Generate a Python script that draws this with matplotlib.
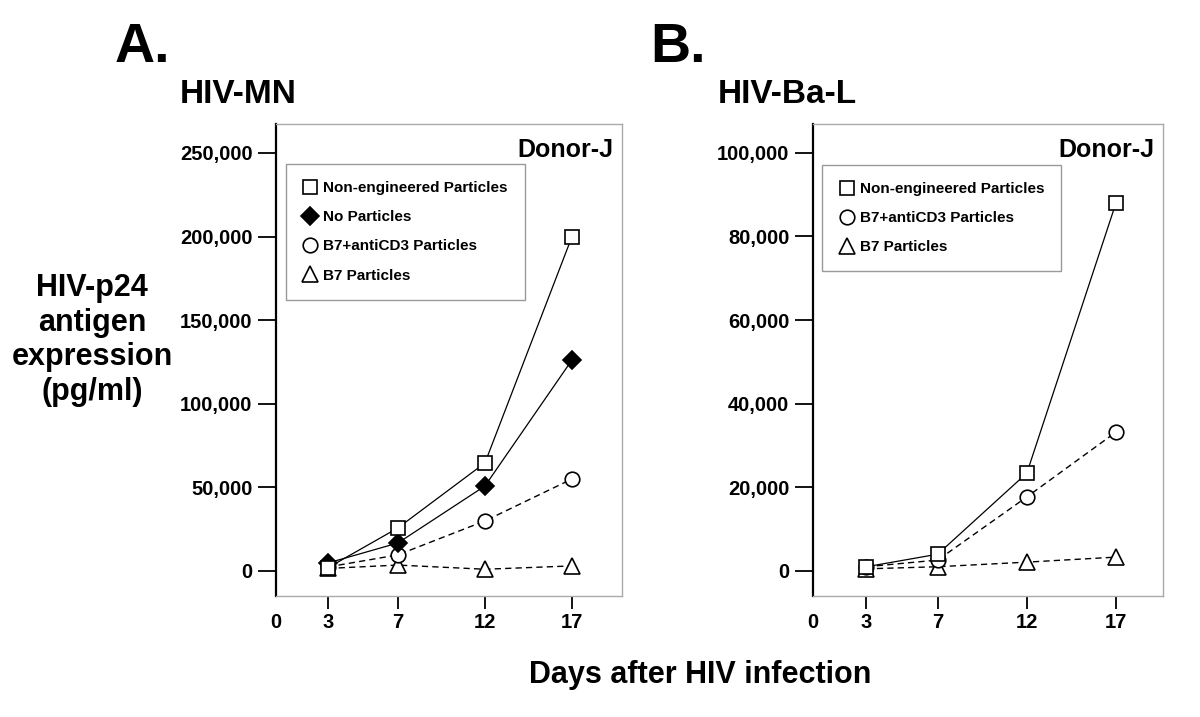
import matplotlib
matplotlib.use("Agg")
import matplotlib.pyplot as plt
from matplotlib.lines import Line2D
from matplotlib.ticker import StrMethodFormatter

plt.rcParams['font.family'] = ['Liberation Sans', 'DejaVu Sans']
plt.rcParams['font.weight'] = 'bold'

# Panel A: HIV-MN, Donor-J
days = [3, 7, 12, 17]
a_nonengineered = [2000, 25700, 64600, 200000]
a_no_particles = [4800, 16700, 50800, 126200]
a_b7_cd3 = [2400, 9600, 29900, 55000]
a_b7 = [1500, 3500, 1000, 3000]

# Panel B: HIV-Ba-L, Donor-J
b_nonengineered = [1000, 4000, 23400, 88000]
b_b7_cd3 = [1000, 2600, 17700, 33200]
b_b7 = [500, 1000, 2100, 3300]

a_yticks = [0, 50000, 100000, 150000, 200000, 250000]
b_yticks = [0, 20000, 40000, 60000, 80000, 100000]
xticks = [0, 3, 7, 12, 17]

labels = {
    'sq': 'Non-engineered Particles',
    'dm': 'No Particles',
    'ci': 'B7+antiCD3 Particles',
    'tr': 'B7 Particles',
}
styles = {
    'sq': dict(marker='s', ms=10, mfc='white'),
    'dm': dict(marker='D', ms=9, mfc='black'),
    'ci': dict(marker='o', ms=10.5, mfc='white'),
    'tr': dict(marker='^', ms=12, mfc='white'),
}
solid = dict(ls='-', lw=0.9)
dashed = dict(ls=(0, (4.5, 3)), lw=1.0)

fig = plt.figure(figsize=(12, 7.17), dpi=100)
ax_a = fig.add_axes([276 / 1200, 121 / 717, 346 / 1200, 472 / 717])
ax_b = fig.add_axes([813 / 1200, 121 / 717, 350 / 1200, 472 / 717])


def draw(ax, key, y, line):
    ax.plot(days, y, color='black', mec='black', mew=1.2, zorder=3,
            **line, **styles[key])


draw(ax_a, 'tr', a_b7, dashed)
draw(ax_a, 'ci', a_b7_cd3, dashed)
draw(ax_a, 'dm', a_no_particles, solid)
draw(ax_a, 'sq', a_nonengineered, solid)

draw(ax_b, 'tr', b_b7, dashed)
draw(ax_b, 'ci', b_b7_cd3, dashed)
draw(ax_b, 'sq', b_nonengineered, solid)


def style_axes(ax, yticks, ymin, ymax, xmax):
    ax.set_xlim(0, xmax)
    ax.set_ylim(ymin, ymax)
    ax.set_yticks(yticks)
    ax.set_xticks(xticks)
    ax.yaxis.set_major_formatter(StrMethodFormatter('{x:,.0f}'))
    for side in ['top', 'right', 'bottom']:
        ax.spines[side].set_color('#aaaaaa')
        ax.spines[side].set_linewidth(1.0)
    ax.spines['left'].set_color('black')
    ax.spines['left'].set_linewidth(1.6)
    ax.tick_params(axis='y', direction='out', length=13, width=1.3,
                   pad=4, labelsize=14.5)
    ax.tick_params(axis='x', direction='out', length=9, width=1.3,
                   pad=3, labelsize=14.5)
    ax.xaxis.get_major_ticks()[0].tick1line.set_visible(False)
    for t in ax.get_xticklabels() + ax.get_yticklabels():
        t.set_fontweight('bold')
    ax.text(0.975, 0.945, 'Donor-J', transform=ax.transAxes, ha='right',
            va='center', fontsize=18, fontweight='bold')


style_axes(ax_a, a_yticks, -15000, 267300, 19.87)
style_axes(ax_b, b_yticks, -6000, 106900, 19.64)


def legend(ax, keys, anchor):
    handles = [Line2D([], [], ls='none', color='black', mec='black', mew=1.2,
                      **styles[k]) for k in keys]
    leg = ax.legend(handles, [labels[k] for k in keys], loc='upper left',
                    bbox_to_anchor=anchor, fontsize=11, frameon=True,
                    fancybox=False, edgecolor='#999999', framealpha=1,
                    borderpad=1.1, labelspacing=1.0, handlelength=1.0,
                    handletextpad=0.35, borderaxespad=0)
    leg.get_frame().set_linewidth(1.0)
    for t in leg.get_texts():
        t.set_fontweight('bold')


legend(ax_a, ['sq', 'dm', 'ci', 'tr'], (0.029, 0.915))
legend(ax_b, ['sq', 'ci', 'tr'], (0.026, 0.913))

fig.text(115 / 1200, 1 - 62 / 717, 'A.', fontsize=40, fontweight='bold',
         va='baseline')
fig.text(650 / 1200, 1 - 62 / 717, 'B.', fontsize=40, fontweight='bold',
         va='baseline')
fig.text(180 / 1200, 1 - 103 / 717, 'HIV-MN', fontsize=24, fontweight='bold',
         va='baseline')
fig.text(718 / 1200, 1 - 103 / 717, 'HIV-Ba-L', fontsize=24,
         fontweight='bold', va='baseline')

fig.text(92 / 1200, 1 - 340 / 717, 'HIV-p24\nantigen\nexpression\n(pg/ml)',
         fontsize=22, fontweight='bold', ha='center', va='center',
         linespacing=1.2)
fig.text(700 / 1200, 1 - 675 / 717, 'Days after HIV infection', fontsize=22,
         fontweight='bold', ha='center', va='center')

fig.savefig('out.png', dpi=100)
